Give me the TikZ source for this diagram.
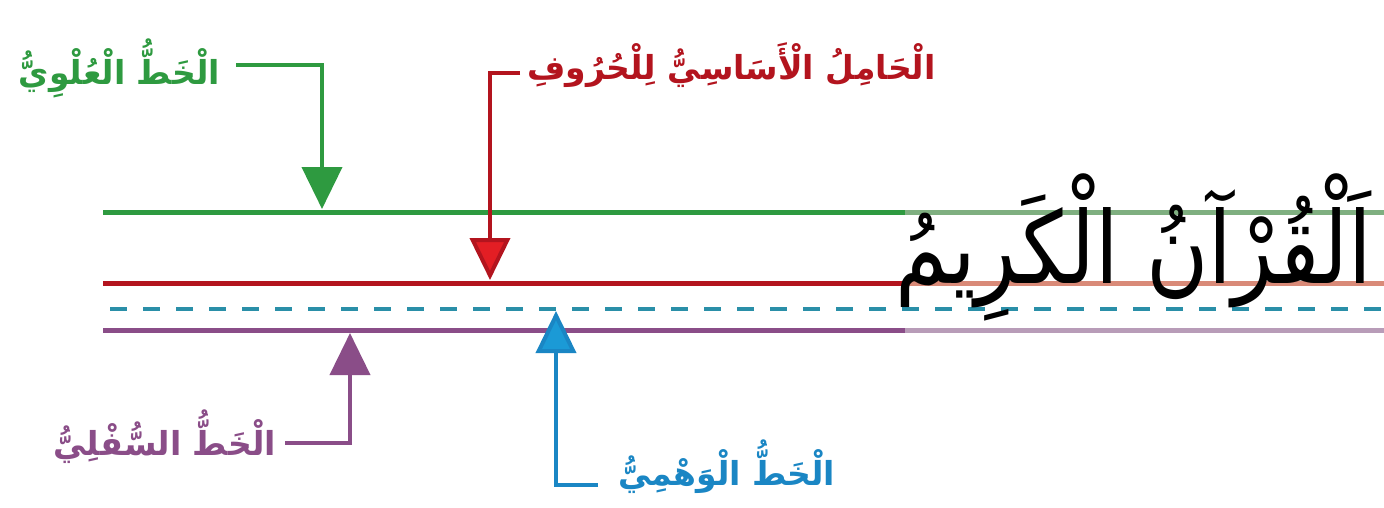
\documentclass[tikz,border=0pt]{standalone}
\usepackage{fontspec}
\newfontfamily\arabicfont[Script=Arabic]{DejaVu Sans}
\TeXXeTstate=1
\usetikzlibrary{arrows.meta}
\definecolor{gr}{HTML}{2E9A40}
\definecolor{grl}{HTML}{7FAF80}
\definecolor{rd}{HTML}{B3141E}
\definecolor{rdb}{HTML}{E31E24}
\definecolor{rdl}{HTML}{D98A78}
\definecolor{pu}{HTML}{8A4D88}
\definecolor{pul}{HTML}{B89CB8}
\definecolor{cy}{HTML}{1B9AD6}
\definecolor{cyd}{HTML}{2A8FA8}
\definecolor{cyt}{HTML}{1A86C4}
\tikzset{
  mainline/.style={line width=5pt},
  conn/.style={line width=4pt},
  tip/.style={-{Triangle[width=40pt,length=42pt]}},
  lab/.style={font=\arabicfont\bfseries\fontsize{33}{38}\selectfont, inner sep=0pt},
}
\begin{document}
\begin{tikzpicture}[x=1pt,y=-1pt]
\useasboundingbox (0,0) rectangle (1384,507);
\fill[white] (0,0) rectangle (1384,507);
% guide lines
\draw[mainline, gr] (103,212) -- (905,212);
\draw[mainline, grl] (905,212) -- (1384,212);
\draw[mainline, rd] (103,283) -- (905,283);
\draw[mainline, rdl] (905,283) -- (1384,283);
\draw[line width=3.5pt, cyd, dash pattern=on 17pt off 16pt, dash phase=26pt] (103,309) -- (1384,309);
\draw[mainline, pu] (103,330) -- (905,330);
\draw[mainline, pul] (905,330) -- (1384,330);
% big text
\node[font=\arabicfont\fontsize{100}{120}\selectfont, anchor=base east, inner sep=0pt] (word) at (1372,283) {\scalebox{0.85}[1]{\beginR اَلْقُرْآنُ الْكَرِيمُ\endR}};
% tips
\coordinate (gtip) at (322,209);
\coordinate (rtip) at (490,280);
\coordinate (ptip) at (350,333);
\coordinate (ctip) at (556,311);
\coordinate (gs) at (236,65);
\coordinate (rs) at (520,73);
\coordinate (ps) at (285,443);
\coordinate (cs) at (598,485);
% labels
\node[lab, text=gr, anchor=east] (glab) at (220,68) {\beginR الْخَطُّ الْعُلْوِيُّ\endR};
\node[lab, text=rd, anchor=west] (rlab) at (527,65) {\beginR الْحَامِلُ الْأَسَاسِيُّ لِلْحُرُوفِ\endR};
\node[lab, text=pu, anchor=east] (plab) at (276,437) {\beginR الْخَطُّ السُّفْلِيُّ\endR};
\node[lab, text=cyt, anchor=west] (clab) at (618,467) {\beginR الْخَطُّ الْوَهْمِيُّ\endR};
% connectors
\draw[conn, gr, tip] (gs) -| (gtip);
\draw[conn, rd, -{Triangle[width=40pt,length=42pt,fill=rdb]}] (rs) -| (rtip);
\draw[conn, pu, tip] (ps) -| (ptip);
\draw[conn, cyt, -{Triangle[width=40pt,length=42pt,fill=cy]}] (cs) -| (ctip);
\end{tikzpicture}
\end{document}
